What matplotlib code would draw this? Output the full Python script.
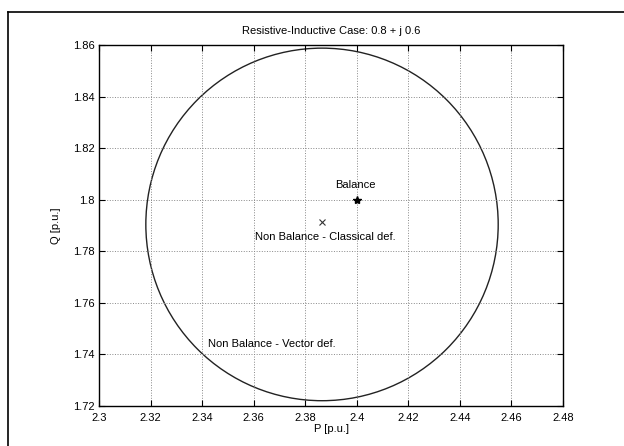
import matplotlib
matplotlib.use("Agg")
import matplotlib.pyplot as plt
from matplotlib.patches import Ellipse
from matplotlib.lines import Line2D

plt.rcParams['font.family'] = ['Liberation Sans', 'DejaVu Sans']

# Data
circle_center = (2.3865, 1.7904)   # Non Balance - Vector def. locus center
circle_radius_p = 0.0684
circle_radius_q = 0.0684
balance_pt = (2.400, 1.800)
classical_pt = (2.3865, 1.7912)
labels = ["Balance", "Non Balance - Classical def.", "Non Balance - Vector def."]
label_pos = [(2.3993, 1.8057), (2.3877, 1.7856), (2.3423, 1.7440)]
label_ha = ["center", "center", "left"]
xticks = [2.30, 2.32, 2.34, 2.36, 2.38, 2.40, 2.42, 2.44, 2.46, 2.48]
xticklabels = ["2.3", "2.32", "2.34", "2.36", "2.38", "2.4", "2.42", "2.44", "2.46", "2.48"]
yticks = [1.72, 1.74, 1.76, 1.78, 1.80, 1.82, 1.84, 1.86]
yticklabels = ["1.72", "1.74", "1.76", "1.78", "1.8", "1.82", "1.84", "1.86"]

fig = plt.figure(figsize=(6.24, 4.46), dpi=100)
ax = fig.add_axes([0.159, 0.090, 0.743, 0.809])

ell = Ellipse(circle_center, 2 * circle_radius_p, 2 * circle_radius_q,
              fill=False, edgecolor='#222222', linewidth=1.0)
ax.add_patch(ell)
ax.plot([balance_pt[0]], [balance_pt[1]], marker='*', color='black',
        markersize=6, linestyle='none')
ax.plot([classical_pt[0]], [classical_pt[1]], marker='x', color='#333333',
        markersize=4, markeredgewidth=0.8, linestyle='none')
for t, (x, y), ha in zip(labels, label_pos, label_ha):
    ax.text(x, y, t, ha=ha, va='center', fontsize=8)

ax.set_xlim(2.30, 2.48)
ax.set_ylim(1.72, 1.86)
ax.set_xticks(xticks)
ax.set_xticklabels(xticklabels)
ax.set_yticks(yticks)
ax.set_yticklabels(yticklabels)
ax.tick_params(direction='in', top=True, right=True, labelsize=8, length=4)
ax.tick_params(axis='x', pad=5)
ax.tick_params(axis='y', pad=3)
ax.grid(True, linestyle=':', color='#888888', linewidth=0.7)
for s in ax.spines.values():
    s.set_linewidth(1.0)
ax.set_title("Resistive-Inductive Case: 0.8 + j 0.6", fontsize=8, pad=8)
ax.set_xlabel("P [p.u.]", fontsize=8, labelpad=1)
ax.set_ylabel("Q [p.u.]", fontsize=8, labelpad=9)

# outer frame of the scanned figure
fig.add_artist(Line2D([0.013, 0.013], [0.0, 0.973], transform=fig.transFigure,
                      color='black', linewidth=1.2))
fig.add_artist(Line2D([0.013, 1.0], [0.973, 0.973], transform=fig.transFigure,
                      color='black', linewidth=1.2))

fig.savefig("out.png", dpi=100)
